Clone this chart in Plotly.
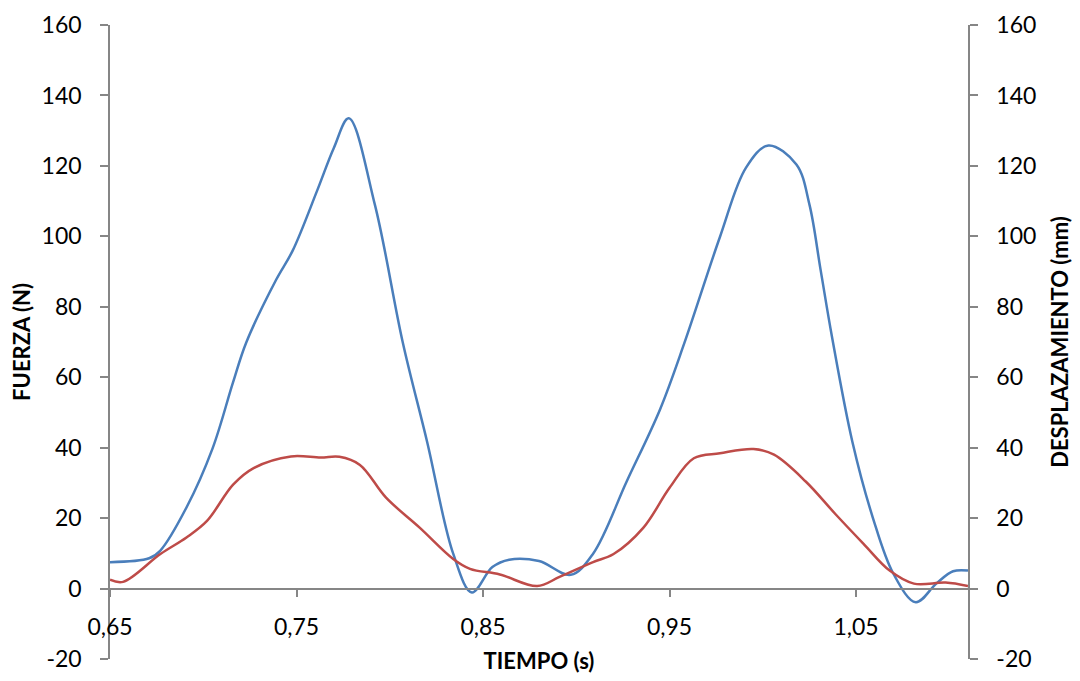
import plotly.graph_objects as go

# Time (s) for force readings
tiempo = [0.650, 0.671, 0.677, 0.691, 0.705, 0.716, 0.723, 0.739, 0.748, 0.761,
          0.770, 0.778, 0.792, 0.807, 0.820, 0.834, 0.844, 0.855, 0.864, 0.880,
          0.897, 0.909, 0.927, 0.945, 0.958, 0.977, 0.991, 1.003, 1.018, 1.025,
          1.031, 1.037, 1.048, 1.059, 1.070, 1.082, 1.093, 1.102, 1.110]
# Force (N) - left axis
fuerza = [7.5, 8.6, 10.8, 23.0, 39.8, 58.6, 69.8, 87.6, 96.0, 112.9,
          125.1, 133.5, 109.0, 69.8, 41.7, 9.9, -1.1, 6.1, 8.2, 7.8,
          3.9, 9.9, 30.4, 51.0, 69.8, 99.8, 119.5, 125.8, 120.4, 109.0,
          90.4, 71.7, 41.7, 20.1, 4.2, -3.9, 1.4, 4.9, 5.1]

# Time (s) for displacement readings
tiempo_d = [0.650, 0.657, 0.677, 0.691, 0.702, 0.716, 0.727, 0.747, 0.763, 0.773,
            0.784, 0.798, 0.816, 0.834, 0.843, 0.859, 0.879, 0.891, 0.909, 0.920,
            0.936, 0.950, 0.963, 0.977, 0.995, 1.006, 1.023, 1.039, 1.054, 1.068,
            1.081, 1.098, 1.110]
# Displacement (mm) - right axis
desplazamiento = [2.5, 1.9, 9.8, 14.5, 19.2, 29.5, 34.2, 37.5, 37.2, 37.4,
                  35.1, 25.8, 17.3, 8.4, 5.6, 4.0, 0.7, 3.3, 7.5, 9.8,
                  17.3, 28.6, 37.0, 38.4, 39.6, 38.0, 30.4, 21.1, 12.7, 5.1,
                  1.4, 1.7, 0.7]

x_ticks = [0.65, 0.75, 0.85, 0.95, 1.05]
x_ticktext = ["0,65", "0,75", "0,85", "0,95", "1,05"]
y_ticks = [-20, 0, 20, 40, 60, 80, 100, 120, 140, 160]
y_ticktext = ["-20", "0", "20", "40", "60", "80", "100", "120", "140", "160"]

FONT = "Lato"
AXIS_GRAY = "#868686"

fig = go.Figure()
fig.add_trace(go.Scatter(x=tiempo, y=fuerza, mode="lines", name="Fuerza",
                         line=dict(color="#4A7EBB", width=2.5, shape="spline", smoothing=1.0),
                         yaxis="y"))
fig.add_trace(go.Scatter(x=tiempo_d, y=desplazamiento, mode="lines", name="Desplazamiento",
                         line=dict(color="#BE4B48", width=2.5, shape="spline", smoothing=1.0),
                         yaxis="y2"))

fig.update_layout(
    width=1080, height=681,
    margin=dict(l=102, r=120, t=17, b=30),
    paper_bgcolor="white", plot_bgcolor="white",
    showlegend=False,
    font=dict(family=FONT, size=23, color="black"),
    xaxis=dict(
        range=[0.65, 1.11],
        tickvals=x_ticks, ticktext=x_ticktext,
        showgrid=False, zeroline=False, automargin=False,
        showline=True, linecolor=AXIS_GRAY, linewidth=1.5,
        ticks="outside", ticklen=8, tickcolor=AXIS_GRAY, tickwidth=1.5,
        anchor="free", position=1/9,
        ticklabelstandoff=10, ticklabeloverflow="allow",
        title=dict(text="<b>TIEMPO (s)</b>", font=dict(size=22), standoff=14),
    ),
    yaxis=dict(
        range=[-20, 160], tickvals=y_ticks, ticktext=y_ticktext,
        showgrid=False, zeroline=False, automargin=False,
        showline=True, linecolor=AXIS_GRAY, linewidth=1.5,
        ticks="outside", ticklen=8, tickcolor=AXIS_GRAY, tickwidth=1.5,
        ticklabelstandoff=14, ticklabeloverflow="allow",
        title=dict(text="<b>FUERZA (N)</b>", font=dict(size=22), standoff=6),
    ),
    yaxis2=dict(
        range=[-20, 160], tickvals=y_ticks, ticktext=y_ticktext,
        overlaying="y", side="right", anchor="x",
        showgrid=False, zeroline=False, automargin=False,
        showline=True, linecolor=AXIS_GRAY, linewidth=1.5,
        ticks="outside", ticklen=8, tickcolor=AXIS_GRAY, tickwidth=1.5,
        ticklabelstandoff=14, ticklabeloverflow="allow",
        title=dict(text="<b>DESPLAZAMIENTO (mm)</b>", font=dict(size=22), standoff=17),
    ),
)

fig.write_html("out.html")
